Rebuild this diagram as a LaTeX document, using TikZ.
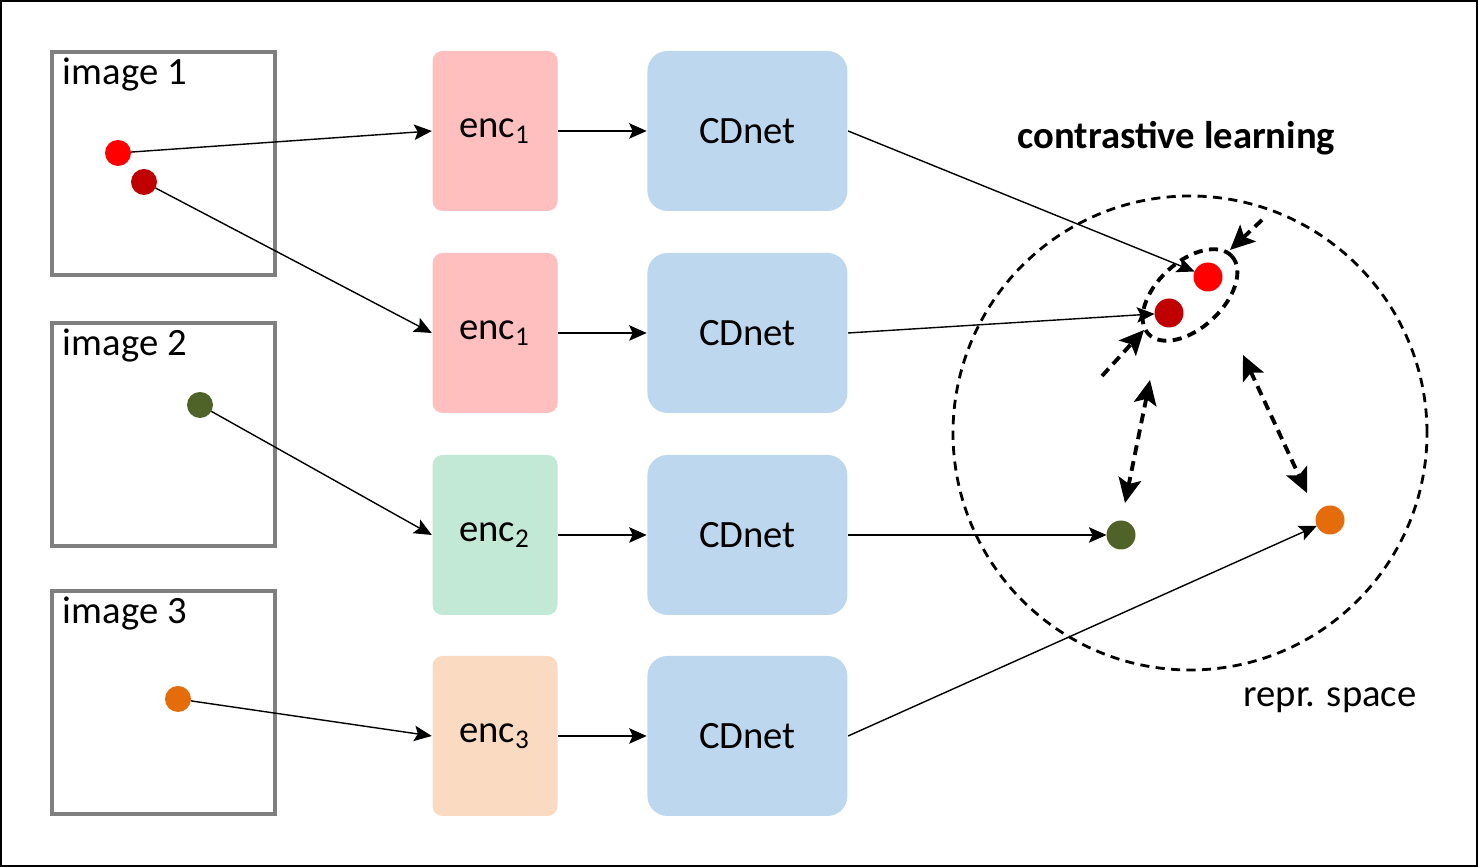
\documentclass[tikz,border=0pt]{standalone}
\usepackage{fontspec}
\setmainfont{Carlito}
\usetikzlibrary{arrows.meta}
\usetikzlibrary{positioning}
\usetikzlibrary{calc}

\definecolor{framegray}{RGB}{127,127,127}
\definecolor{encred}{RGB}{255,191,191}
\definecolor{encgreen}{RGB}{193,233,214}
\definecolor{encpeach}{RGB}{250,219,194}
\definecolor{cdblue}{RGB}{189,215,238}
\definecolor{ptred}{RGB}{255,0,0}
\definecolor{ptdark}{RGB}{192,0,0}
\definecolor{ptgreen}{RGB}{79,98,40}
\definecolor{ptorange}{RGB}{228,108,10}

\begin{document}
\begin{tikzpicture}[
      >={Stealth[length=5pt, width=4.4pt, inset=1pt]},
      font = \fontsize{11}{13}\selectfont,
      node distance = 8.85mm,
      imgbox/.style = {
        draw = framegray, line width = 1pt,
        minimum size = 2.23cm, inner sep = 0
      },
      enc/.style = { rounded corners = 1mm, minimum width = 1.25cm, minimum height = 1.6cm },
      cdnet/.style = { fill = cdblue, rounded corners = 2mm, minimum width = 2cm, minimum height = 1.6cm },
      dot/.style = { circle, inner sep = 0, outer sep = 0, minimum size = 2.6mm },
      rdot/.style = { dot, minimum size = 2.9mm },
      link/.style = { ->, line width = 0.4pt },
      pull/.style = {
        line width = 1.1pt, dash pattern = on 2.8pt off 1.8pt,
        >={Stealth[length=7pt, width=6.5pt, inset=1.5pt]}
      },
    ]

    \useasboundingbox (0,0) rectangle (14.78,8.67);
    \draw[line width = 1.2pt] (0,0) rectangle (14.78,8.67);

    %% input images
    \foreach \y [count=\i] in {7.035, 4.325, 1.645} {
      \node[imgbox] (img\i) at (1.635,\y) {};
      \node[anchor = base west, inner sep = 0] (lbl\i) at ($(img\i.north west) + (0.12,-0.34)$) {image \i};
    }

    \node[dot, fill = ptred]    (p1) at (1.18,7.14) {};
    \node[dot, fill = ptdark]   (p2) at (1.44,6.85) {};
    \node[dot, fill = ptgreen]  (p3) at (2.00,4.62) {};
    \node[dot, fill = ptorange] (p4) at (1.78,1.68) {};

    %% encoders and CDnet
    \foreach \y/\c/\s [count=\i] in {7.36/encred/1, 5.34/encred/1, 3.32/encgreen/2, 1.31/encpeach/3} {
      \node[enc, fill = \c] (enc\i) at (4.95,\y) {enc\textsubscript{\s}};
      \node[cdnet, right = of enc\i] (cd\i) {CDnet};
      \draw[link] (enc\i) to (cd\i);
    }

    %% representation space
    \draw[line width = 0.8pt, dash pattern = on 2.6pt off 1.8pt] (11.90,4.34) circle (2.37cm);
    \draw[line width = 1.1pt, dash pattern = on 2.6pt off 1.8pt, rotate around = {43:(11.90,5.72)}]
      (11.90,5.72) ellipse (0.57 and 0.33);

    \node[rdot, fill = ptred]    (q1) at (12.08,5.90) {};
    \node[rdot, fill = ptdark]   (q2) at (11.69,5.54) {};
    \node[rdot, fill = ptgreen]  (q3) at (11.21,3.32) {};
    \node[rdot, fill = ptorange] (q4) at (13.30,3.47) {};

    \foreach \i in {1,...,4} {
      \draw[link] (p\i) to (enc\i.west);
      \draw[link] (cd\i.east) to (q\i);
    }

    \node[font = \fontsize{11}{13}\selectfont\bfseries, anchor = base] (title) at (11.765,7.18) {contrastive learning};
    \node[anchor = base] (repr) at (13.30,1.60) {repr. space};

    %% pull together / push apart
    \coordinate (a1) at (12.62,6.47);
    \coordinate (a1e) at (12.30,6.17);
    \coordinate (a2) at (11.02,4.91);
    \coordinate (a2e) at (11.44,5.37);
    \coordinate (b1) at (11.50,4.87);
    \coordinate (b1e) at (11.25,3.64);
    \coordinate (b2) at (12.43,5.12);
    \coordinate (b2e) at (13.07,3.74);

    \draw[pull, ->] (a1) to (a1e);
    \draw[pull, ->] (a2) to (a2e);
    \draw[pull, <->] (b1) to (b1e);
    \draw[pull, <->] (b2) to (b2e);
  \end{tikzpicture}
\end{document}
